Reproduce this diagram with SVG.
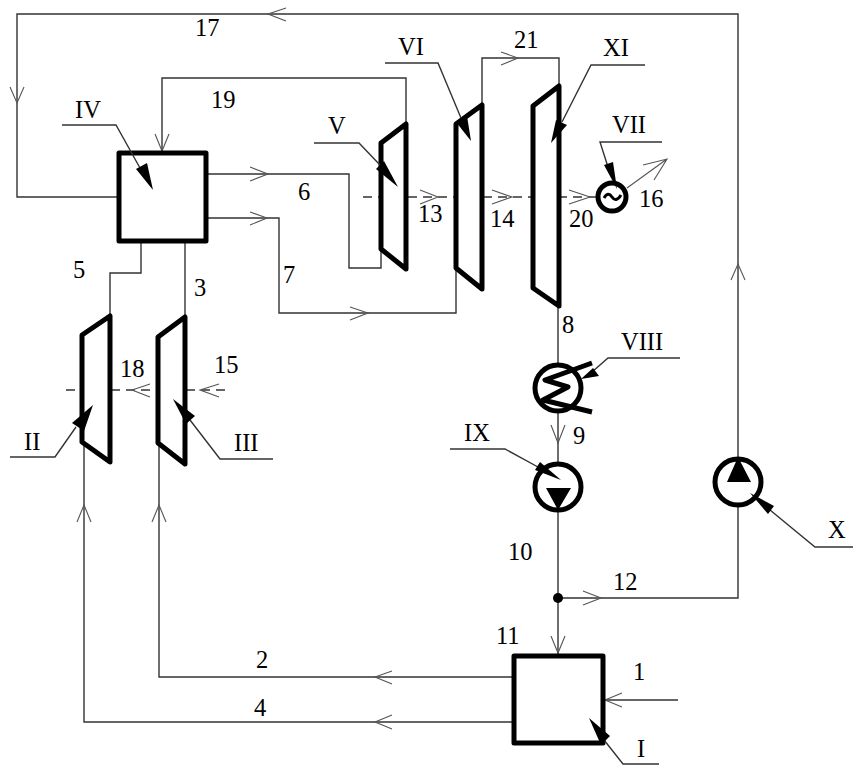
<svg xmlns="http://www.w3.org/2000/svg" width="853" height="765" viewBox="0 0 853 765">
<style>
text{font-family:"Liberation Serif","Times New Roman",serif;font-size:24.5px;fill:#000}
.l{fill:none;stroke:#333;stroke-width:1.4}
.b{fill:none;stroke:#555;stroke-width:1.1}
.d{fill:none;stroke:#333;stroke-width:1.3;stroke-dasharray:9 6}
.t{fill:#fff;stroke:#000;stroke-width:5;stroke-linejoin:round}
.o{fill:none;stroke:#000;stroke-width:5;stroke-linejoin:round}
.k{fill:#000;stroke:none}
</style>
<rect width="853" height="765" fill="#fff"/>
<g id="connectors">
<path class="l" d="M738 459V14H17V197H117"/>
<path class="l" d="M162 151V78H406V124"/>
<path class="l" d="M208 174H349V268H381V250"/>
<path class="l" d="M208 218H279V313H456V270"/>
<path class="l" d="M482 105V58H559V86"/>
<path class="l" d="M110 316V273H141V243"/>
<path class="l" d="M185 317V243"/>
<path class="l" d="M84 442V722H512"/>
<path class="l" d="M159 443V677H512"/>
<path class="l" d="M558 306V364M558 412V464M558 510V654"/>
<path class="l" d="M558 598H738V505"/>
<path class="l" d="M678 700H605"/>
<path class="d" d="M363 197H597"/>
<path class="d" d="M66 390H230"/>
<path class="b" d="M627 188L667 159M643 165L667 159L654 180"/>
<path class="b" d="M286 8L268 14L286 21M10 87L17 103L24 87M155 134L162 151L169 134M250 167L268 174L250 181M250 212L267 218L250 225M350 307L368 313L350 320M501 52L518 58L501 65"/>
<path class="b" d="M420 190L438 197L420 204M492 190L512 197L492 204M569 190L590 197L569 204M150 384L132 390L150 397M219 384L200 390L219 397"/>
<path class="b" d="M551 425L558 443L565 425M731 280L738 264L745 280M583 591L601 598L583 605M551 636L558 653L565 636"/>
<path class="b" d="M392 671L375 677L392 684M392 715L375 722L392 729M77 522L84 505L91 522M152 522L159 505L166 522M622 693L605 700L622 707"/>
<circle class="k" cx="558" cy="598" r="5"/>
</g>
<g id="node-I">
<rect class="o" x="514" y="656" width="89" height="87"/>
<path class="l" d="M659 764H623L604 740"/>
<path class="k" d="M589 718L610 736L601 745Z"/>
<text x="637" y="757">I</text>
</g>
<g id="node-II">
<path class="t" d="M82 335L110 316V462L82 442Z"/>
<path class="l" d="M10 457H55L76 427"/>
<path class="k" d="M93 405L84 431L72 423Z"/>
<text x="24" y="450">II</text>
</g>
<g id="node-III">
<path class="t" d="M158 337L185 317V464L158 443Z"/>
<path class="l" d="M190 420L220 459H273"/>
<path class="k" d="M173 399L195 416L186 424Z"/>
<text x="234" y="451">III</text>
</g>
<g id="node-IV">
<rect class="o" x="119" y="153" width="87" height="88"/>
<path class="l" d="M62 125H116L140 168"/>
<path class="k" d="M153 190L136 169L147 163Z"/>
<text x="75" y="118">IV</text>
</g>
<g id="node-V">
<path class="t" d="M381 143L406 124V269L381 249Z"/>
<path class="l" d="M314 143H359L380 165"/>
<path class="k" d="M398 187L376 169L384 161Z"/>
<text x="328" y="134">V</text>
</g>
<g id="node-VI">
<path class="t" d="M456 124L482 105V289L456 268Z"/>
<path class="l" d="M385 63H438L461 118"/>
<path class="k" d="M471 141L456 122L467 116Z"/>
<text x="398" y="55">VI</text>
</g>
<g id="node-XI">
<path class="t" d="M533 106L559 86V306L533 288Z"/>
<path class="l" d="M645 65H591L562 122"/>
<path class="k" d="M551 143L556 120L567 125Z"/>
<text x="603" y="56">XI</text>
</g>
<g id="node-VII">
<circle class="t" cx="612" cy="197" r="14"/>
<path fill="none" stroke="#000" stroke-width="3" d="M604 198Q608 191 612 197T621 195"/>
<path class="l" d="M662 142H600L608 167"/>
<path class="k" d="M617 189L604 165L613 162Z"/>
<text x="612" y="133">VII</text>
</g>
<g id="node-VIII">
<circle class="t" cx="558" cy="388" r="23"/>
<path class="o" d="M592 363L545 380L568 387L543 400L592 412"/>
<path class="l" d="M680 358H608L592 372"/>
<path class="k" d="M581 379L593 368L599 376Z"/>
<text x="621" y="350">VIII</text>
</g>
<g id="node-IX">
<circle class="t" cx="558" cy="487" r="23"/>
<path class="k" d="M546 488H571L558 510Z"/>
<path class="l" d="M450 449H505L538 467"/>
<path class="k" d="M561 480L535 470L540 462Z"/>
<text x="464" y="441">IX</text>
</g>
<g id="node-X">
<circle class="t" cx="738" cy="482" r="23"/>
<path class="k" d="M727 482H751L738 457Z"/>
<path class="l" d="M853 547H815L770 510"/>
<path class="k" d="M750 493L774 506L768 514Z"/>
<text x="828" y="538">X</text>
</g>
<g id="labels">
<text x="254" y="716">4</text>
<text x="256" y="668">2</text>
<text x="194" y="296">3</text>
<text x="73" y="278">5</text>
<text x="298" y="200">6</text>
<text x="283" y="283">7</text>
<text x="562" y="333">8</text>
<text x="573" y="444">9</text>
<text x="508" y="560">10</text>
<text x="496" y="644">11</text>
<text x="613" y="590">12</text>
<text x="418" y="222">13</text>
<text x="490" y="227">14</text>
<text x="214" y="373">15</text>
<text x="639" y="207">16</text>
<text x="195" y="36">17</text>
<text x="120" y="377">18</text>
<text x="211" y="108">19</text>
<text x="569" y="227">20</text>
<text x="514" y="48">21</text>
<text x="633" y="680">1</text>
</g>
</svg>
